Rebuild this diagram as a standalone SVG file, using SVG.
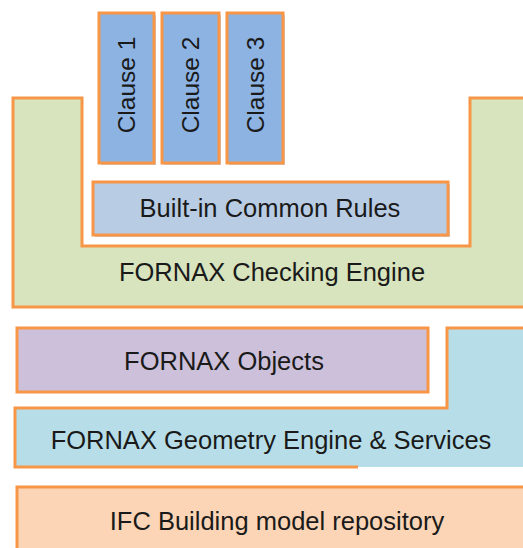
<svg xmlns="http://www.w3.org/2000/svg" width="523" height="548" viewBox="0 0 523 548">
<style>
.b{stroke:#f79646;stroke-width:3;stroke-linejoin:miter}
.t{font-family:"Liberation Sans",Arial,sans-serif;font-size:25.5px;fill:#1a1a1a;text-anchor:middle;dominant-baseline:central}
.v{font-size:24.5px}
.sh{fill:#9a9a9a;opacity:0.5}
</style>
<rect width="523" height="548" fill="#ffffff"/>
<g id="checking-engine">
<path class="b" d="M13,98 H82 V246 H470 V98 H530 V307 H13 Z" fill="#d7e4bd"/>
<text class="t" x="272" y="272">FORNAX Checking Engine</text>
</g>
<g id="clause1">
<rect class="sh" x="101" y="15" width="55" height="150"/>
<rect class="b" x="99" y="13" width="55" height="150" fill="#8db3e2"/>
<text class="t v" transform="translate(126.5,85) rotate(-90)" x="0" y="0">Clause 1</text>
</g>
<g id="clause2">
<rect class="sh" x="164" y="15" width="57" height="150"/>
<rect class="b" x="162" y="13" width="57" height="150" fill="#8db3e2"/>
<text class="t v" transform="translate(190.5,85) rotate(-90)" x="0" y="0">Clause 2</text>
</g>
<g id="clause3">
<rect class="sh" x="229" y="15" width="56" height="150"/>
<rect class="b" x="227" y="13" width="56" height="150" fill="#8db3e2"/>
<text class="t v" transform="translate(255,85) rotate(-90)" x="0" y="0">Clause 3</text>
</g>
<g id="common-rules">
<rect class="sh" x="95" y="184" width="355" height="53"/>
<rect class="b" x="93" y="182" width="355" height="53" fill="#b8cce4"/>
<text class="t" x="270" y="208">Built-in Common Rules</text>
</g>
<g id="fornax-objects">
<rect class="b" x="17" y="328" width="411" height="64" fill="#ccc0da"/>
<text class="t" x="224" y="361">FORNAX Objects</text>
</g>
<g id="geometry-engine">
<path d="M15,408 H447 V328 H530 V467 H15 Z" fill="#b7dee8"/>
<path class="b" d="M358,467 H15 V408 H447 V328 H530" fill="none"/>
<text class="t" x="271" y="440">FORNAX Geometry Engine &amp; Services</text>
</g>
<g id="ifc-repository">
<rect class="b" x="17" y="487" width="520" height="70" fill="#fbd5b5"/>
<text class="t" x="277" y="521">IFC Building model repository</text>
</g>
<g id="connectors"></g>
</svg>
